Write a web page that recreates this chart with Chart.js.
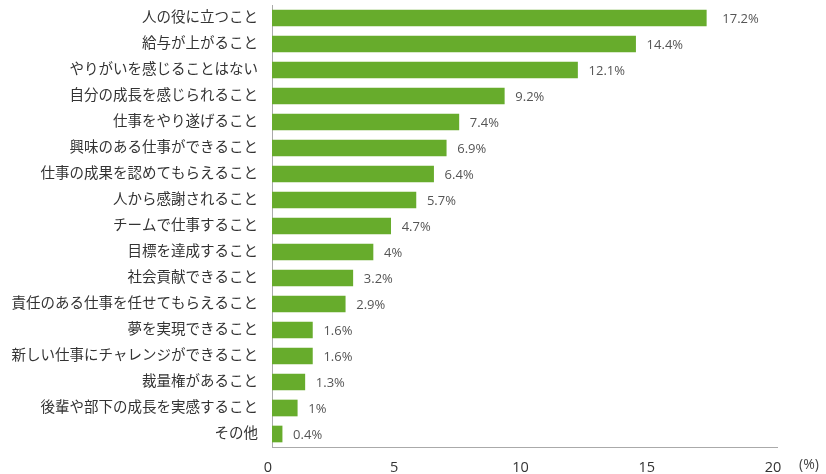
<!DOCTYPE html>
<html lang="ja">
<head>
<meta charset="utf-8">
<script src="https://cdn.jsdelivr.net/npm/chart.js@4"></script>
<style>
  html, body { margin: 0; padding: 0; background: #fff; }
  #wrap { width: 826px; height: 474px; position: relative; }
</style>
</head>
<body>
<div id="wrap"><canvas id="chart"></canvas></div>
<script>
// -------- DATA --------
const categories = [
    "人の役に立つこと",
    "給与が上がること",
    "やりがいを感じることはない",
    "自分の成長を感じられること",
    "仕事をやり遂げること",
    "興味のある仕事ができること",
    "仕事の成果を認めてもらえること",
    "人から感謝されること",
    "チームで仕事すること",
    "目標を達成すること",
    "社会貢献できること",
    "責任のある仕事を任せてもらえること",
    "夢を実現できること",
    "新しい仕事にチャレンジができること",
    "裁量権があること",
    "後輩や部下の成長を実感すること",
    "その他"
];
const values = [17.2, 14.4, 12.1, 9.2, 7.4, 6.9, 6.4, 5.7, 4.7, 4, 3.2, 2.9, 1.6, 1.6, 1.3, 1, 0.4];
const xTicks = [0, 5, 10, 15, 20];
const unitLabel = "(%)";

const FONT = "'Open Sans', 'Noto Sans CJK JP', sans-serif";

// -------- PLUGINS --------
const valueLabels = {
    id: "valueLabels",
    afterDatasetsDraw(chart) {
        const ctx = chart.ctx;
        const meta = chart.getDatasetMeta(0);
        ctx.save();
        ctx.font = "13px " + FONT;
        ctx.fillStyle = "#555";
        ctx.textAlign = "left";
        ctx.textBaseline = "middle";
        meta.data.forEach((bar, i) => {
            const gap = i === 0 ? 16 : 11;
            ctx.fillText(values[i] + "%", bar.x + gap, bar.y + 1);
        });
        ctx.restore();
    }
};

const unitText = {
    id: "unitText",
    afterDraw(chart) {
        const ctx = chart.ctx;
        const x = chart.scales.x;
        ctx.save();
        ctx.font = "14px " + FONT;
        ctx.fillStyle = "#444";
        ctx.textAlign = "center";
        ctx.textBaseline = "middle";
        ctx.fillText(unitLabel, x.right + 32, 465);
        ctx.restore();
    }
};

// -------- CHART --------
const ctx = document.getElementById("chart").getContext("2d");

new Chart(ctx, {
    type: "bar",
    data: {
        labels: categories,
        datasets: [{
            data: values,
            backgroundColor: "#67ac2c",
            barThickness: 16
        }]
    },
    options: {
        indexAxis: "y",
        responsive: true,
        maintainAspectRatio: false,
        animation: false,
        layout: { padding: { top: 5, right: 49, bottom: 0, left: 0 } },
        plugins: {
            legend: { display: false },
            tooltip: { enabled: false }
        },
        scales: {
            x: {
                min: 0,
                max: 20,
                afterBuildTicks: s => { s.ticks = xTicks.map(v => ({ value: v })); },
                afterFit: s => { s.height = 27; s.paddingLeft = 0; s.paddingRight = 0; },
                grid: { display: false, drawTicks: false },
                border: { display: true, color: "#aaa", width: 1 },
                ticks: {
                    padding: 12,
                    labelOffset: -4,
                    color: "#333",
                    font: { family: FONT, size: 14.5 }
                }
            },
            y: {
                afterFit: s => { s.width = 272; s.paddingTop = 0; s.paddingBottom = 0; },
                grid: { display: false, drawTicks: false },
                border: { display: true, color: "#aaa", width: 1 },
                ticks: {
                    padding: 14,
                    color: "#333",
                    font: { family: FONT, size: 14.5 }
                }
            }
        }
    },
    plugins: [valueLabels, unitText]
});
</script>
</body>
</html>
